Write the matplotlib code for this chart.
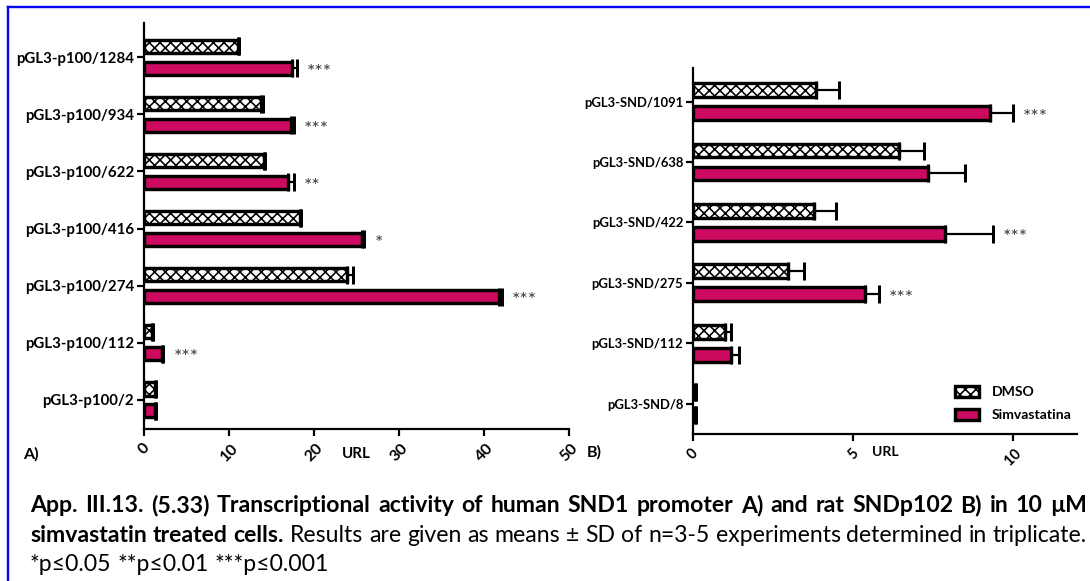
import numpy as np
import matplotlib
matplotlib.use("Agg")
import matplotlib.pyplot as plt
from matplotlib.patches import Patch
from matplotlib.lines import Line2D

# ---------------- data ----------------
# Panel A: human SND1 promoter constructs (top to bottom)
a_labels = ["pGL3-p100/1284", "pGL3-p100/934", "pGL3-p100/622", "pGL3-p100/416",
            "pGL3-p100/274", "pGL3-p100/112", "pGL3-p100/2"]
a_dmso = [11.0, 13.75, 14.1, 18.3, 23.9, 0.9, 1.3]
a_dmso_sd = [0.1, 0.2, 0.1, 0.1, 0.6, 0.1, 0.05]
a_simv = [17.35, 17.3, 16.9, 25.6, 41.7, 2.1, 1.3]
a_simv_sd = [0.6, 0.3, 0.7, 0.3, 0.4, 0.15, 0.05]
a_stars = ["***", "***", "**", "*", "***", "***", ""]
a_ticks = [0, 10, 20, 30, 40, 50]

# Panel B: rat SNDp102 promoter constructs (top to bottom)
b_labels = ["pGL3-SND/1091", "pGL3-SND/638", "pGL3-SND/422", "pGL3-SND/275",
            "pGL3-SND/112", "pGL3-SND/8"]
b_dmso = [3.82, 6.43, 3.77, 2.96, 0.99, 0.05]
b_dmso_sd = [0.73, 0.78, 0.70, 0.50, 0.19, 0.03]
b_simv = [9.28, 7.32, 7.87, 5.36, 1.17, 0.05]
b_simv_sd = [0.72, 1.17, 1.48, 0.44, 0.26, 0.03]
b_stars = ["***", "", "***", "***", "", ""]
b_ticks = [0, 5, 10]

series_names = ["DMSO", "Simvastatina"]

# ---------------- style ----------------
DPI = 64
W, H = 1090, 581
PT = 72.0 / DPI          # points per pixel
SIMV_COLOR = "#CC0A60"
HATCH = "xx"

plt.rcParams["font.family"] = ["Lato", "DejaVu Sans"]
plt.rcParams["hatch.linewidth"] = 1.8

fig = plt.figure(figsize=(W / DPI, H / DPI), dpi=DPI)
fig.patch.set_facecolor("white")


def px_box(left, top, right, bottom):
    return [left / W, 1 - bottom / H, (right - left) / W, (bottom - top) / H]


def draw_panel(ax, labels, dmso, dmso_sd, simv, simv_sd, stars, ticks, xmax,
               ylim, label_size, tick_size):
    n = len(labels)
    y = np.arange(n)[::-1].astype(float)
    off, h = 0.19, 0.23
    bar_lw = 3.4 * PT
    err_kw = dict(ecolor="black", elinewidth=2.2 * PT, capsize=9 * PT,
                  capthick=3.0 * PT)
    ax.barh(y + off, dmso, height=h, color="white", edgecolor="black",
            hatch=HATCH, linewidth=bar_lw,
            xerr=[np.zeros(n), dmso_sd], error_kw=err_kw, zorder=3)
    ax.barh(y - off, simv, height=h, color=SIMV_COLOR, edgecolor="black",
            linewidth=bar_lw,
            xerr=[np.zeros(n), simv_sd], error_kw=err_kw, zorder=3)
    for yi, v, s, st in zip(y, simv, simv_sd, stars):
        if st:
            ax.annotate(st, xy=(v + s, yi - off), xytext=(10, -4),
                        textcoords="offset pixels", ha="left", va="center",
                        fontsize=20 * PT, color="#3a3a3a")
    ax.set_xlim(0, xmax)
    ax.set_ylim(*ylim)
    ax.set_yticks(y)
    ax.set_yticklabels(labels, fontsize=label_size * PT, fontweight="bold")
    ax.set_xticks(ticks)
    ax.set_xticklabels([str(t) for t in ticks], fontsize=tick_size * PT,
                       fontweight="bold", rotation=45, ha="center", va="top")
    for side in ("top", "right"):
        ax.spines[side].set_visible(False)
    for side in ("left", "bottom"):
        ax.spines[side].set_linewidth(2.2 * PT)
    ax.tick_params(axis="both", direction="out", length=7 * PT,
                   width=2.2 * PT, pad=3 * PT)
    ax.tick_params(axis="x", pad=5 * PT)
    ax.set_facecolor("none")


ax_a = fig.add_axes(px_box(144.3, 23, 569.3, 429))
draw_panel(ax_a, a_labels, a_dmso, a_dmso_sd, a_simv, a_simv_sd, a_stars,
           a_ticks, 50, (-0.51, 6.6), 15.0, 16.0)

ax_b = fig.add_axes(px_box(693.3, 68.3, 1077.3, 434))
draw_panel(ax_b, b_labels, b_dmso, b_dmso_sd, b_simv, b_simv_sd, b_stars,
           b_ticks, 12, (-0.5, 5.55), 13.0, 14.5)

# axis titles and panel letters
fig.text(356 / W, 1 - 454 / H, "URL", ha="center", va="center",
         fontsize=15 * PT, fontweight="bold")
fig.text(885 / W, 1 - 452 / H, "URL", ha="center", va="center",
         fontsize=14 * PT, fontweight="bold")
fig.text(31 / W, 1 - 454 / H, "A)", ha="center", va="center",
         fontsize=16 * PT, fontweight="bold")
fig.text(594 / W, 1 - 452 / H, "B)", ha="center", va="center",
         fontsize=16 * PT, fontweight="bold")

# legend
handles = [Patch(facecolor="white", edgecolor="black", hatch=HATCH,
                 linewidth=3.4 * PT),
           Patch(facecolor=SIMV_COLOR, edgecolor="black", linewidth=3.4 * PT)]
leg_fs = 14.0
ax_b.legend(handles, series_names, loc="upper left",
            bbox_to_anchor=(955 / W, 1 - 386 / H),
            bbox_transform=fig.transFigure, frameon=False, borderpad=0,
            borderaxespad=0, handlelength=24 / leg_fs, handleheight=12 / leg_fs,
            handletextpad=13 / leg_fs, labelspacing=0.75,
            prop=dict(size=leg_fs * PT, weight="bold"))

# blue frame (top and left edges)
fig.add_artist(Line2D([8 / W, 1], [1 - 7 / H, 1 - 7 / H],
                      transform=fig.transFigure, color="#0808F0",
                      linewidth=2.4 * PT))
fig.add_artist(Line2D([8 / W, 8 / W], [1 - 7 / H, 0],
                      transform=fig.transFigure, color="#0808F0",
                      linewidth=2.4 * PT))

# caption with justified lines
CAP_FS = 23.0 * PT
LEFT, RIGHT = 30, 1087
renderer = fig.canvas.get_renderer()


def caption_line(tokens, baseline_px, justify=True):
    texts = []
    for word, weight in tokens:
        t = fig.text(0, 1 - baseline_px / H, word, ha="left", va="baseline",
                     fontsize=CAP_FS, fontweight=weight)
        texts.append(t)
    widths = [t.get_window_extent(renderer).width for t in texts]
    if justify and len(texts) > 1:
        gap = (RIGHT - LEFT - sum(widths)) / (len(texts) - 1)
    else:
        probe = fig.text(0, 0, "a a", fontsize=CAP_FS)
        gap = probe.get_window_extent(renderer).width
        probe.set_text("aa")
        gap -= probe.get_window_extent(renderer).width
        probe.remove()
    x = LEFT
    for t, w in zip(texts, widths):
        t.set_x(x / W)
        x += w + gap


line1 = "App. III.13. (5.33) Transcriptional activity of human SND1 promoter A) and rat SNDp102 B) in 10 µM"
line2_bold = "simvastatin treated cells."
line2_reg = "Results are given as means ± SD of n=3-5 experiments determined in triplicate."
line3 = "*p≤0.05 **p≤0.01 ***p≤0.001"

caption_line([(w, "bold") for w in line1.split()], 512)
caption_line([(w, "bold") for w in line2_bold.split()] +
             [(w, "normal") for w in line2_reg.split()], 542)
caption_line([(w, "normal") for w in line3.split()], 571, justify=False)

fig.savefig("out.png", dpi=DPI, facecolor="white")
